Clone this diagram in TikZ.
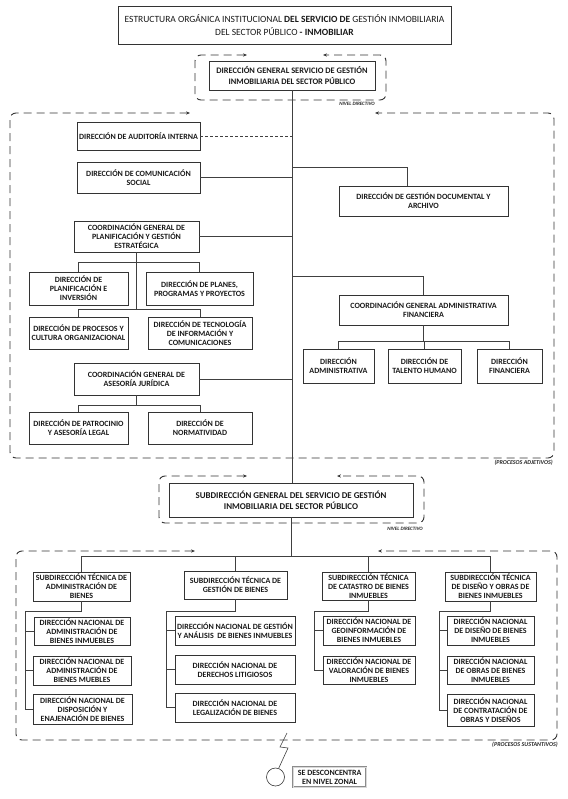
\documentclass[tikz,border=0pt]{standalone}
\usepackage{fontspec}
\setmainfont{Carlito}
\usetikzlibrary{positioning,arrows.meta}

\begin{document}
\begin{tikzpicture}[x=1pt,y=-1pt,>={Stealth[length=4pt,width=3.2pt]},
  box/.style={draw=black!80,line width=0.7pt,align=center,inner sep=0.5pt,
    font=\bfseries\fontsize{8}{9.1}\selectfont,text=black!90},
  sz/.style 2 args={minimum width=#1pt,minimum height=#2pt},
  conn/.style={draw=black!75,line width=0.6pt},
  frame/.style={draw=black!80,line width=0.9pt,dash pattern=on 8pt off 5pt,rounded corners=6pt},
  lbl/.style={font=\bfseries\itshape\fontsize{5}{6}\selectfont,inner sep=0pt,text=black!85}]
\useasboundingbox (0,0) rectangle (567,799);

\node[box,sz={333}{38},font=\fontsize{9.5}{13.5}\selectfont] (title) at (284.5,25)
  {ESTRUCTURA ORGÁNICA INSTITUCIONAL \textbf{DEL SERVICIO DE} GESTIÓN INMOBILIARIA\\DEL SECTOR PÚBLICO \textbf{- INMOBILIAR}};
\node[box,sz={166}{29},font=\bfseries\fontsize{8.4}{10.8}\selectfont] (dg) at (292,75.5)
  {DIRECCIÓN GENERAL SERVICIO DE GESTIÓN\\INMOBILIARIA DEL SECTOR PÚBLICO};

\node[box,sz={123}{28}] (audit) at (138.5,136) {DIRECCIÓN DE AUDITORÍA INTERNA};
\node[box,sz={123}{31}] (comsoc) at (138.5,177.5) {DIRECCIÓN DE COMUNICACIÓN\\SOCIAL};
\node[box,sz={169}{30}] (gestdoc) at (423.5,201) {DIRECCIÓN DE GESTIÓN DOCUMENTAL Y\\ARCHIVO};
\node[box,sz={125}{31}] (cplan) at (136.5,236.5) {COORDINACIÓN GENERAL DE\\PLANIFICACIÓN Y GESTIÓN\\ESTRATÉGICA};
\node[box,sz={99}{33}] (dplan) at (78.5,288.5) {DIRECCIÓN DE\\PLANIFICACIÓN E\\INVERSIÓN};
\node[box,sz={107}{33}] (dprog) at (199.5,288.5) {DIRECCIÓN DE PLANES,\\PROGRAMAS Y PROYECTOS};
\node[box,sz={99}{32}] (dproc) at (78.5,333) {DIRECCIÓN DE PROCESOS Y\\CULTURA ORGANIZACIONAL};
\node[box,sz={104}{32}] (dtic) at (200,333) {DIRECCIÓN DE TECNOLOGÍA\\DE INFORMACIÓN Y\\COMUNICACIONES};
\node[box,sz={169}{30}] (cadm) at (423.5,310) {COORDINACIÓN GENERAL ADMINISTRATIVA\\FINANCIERA};
\node[box,sz={71}{34}] (dadm) at (338.5,366) {DIRECCIÓN\\ADMINISTRATIVA};
\node[box,sz={73}{34}] (dtal) at (424.5,366) {DIRECCIÓN DE\\TALENTO HUMANO};
\node[box,sz={65}{34}] (dfin) at (509.5,366) {DIRECCIÓN\\FINANCIERA};
\node[box,sz={125}{32}] (cjur) at (136.5,379) {COORDINACIÓN GENERAL DE\\ASESORÍA JURÍDICA};
\node[box,sz={99}{32}] (dpat) at (78.5,428) {DIRECCIÓN DE PATROCINIO\\Y ASESORÍA LEGAL};
\node[box,sz={104}{32}] (dnorm) at (200,428) {DIRECCIÓN DE\\NORMATIVIDAD};

\node[box,sz={244}{34},font=\bfseries\fontsize{8.9}{11}\selectfont] (subdg) at (291,500)
  {SUBDIRECCIÓN GENERAL DEL SERVICIO DE GESTIÓN\\INMOBILIARIA DEL SECTOR PÚBLICO};

\node[box,sz={97}{29}] (st1) at (81.5,586.5) {SUBDIRECCIÓN TÉCNICA DE\\ADMINISTRACIÓN DE\\BIENES};
\node[box,sz={103}{28}] (st2) at (235.5,585) {SUBDIRECCIÓN TÉCNICA DE\\GESTIÓN DE BIENES};
\node[box,sz={93}{28}] (st3) at (368.5,586) {SUBDIRECCIÓN TÉCNICA\\DE CATASTRO DE BIENES\\INMUEBLES};
\node[box,sz={91}{29}] (st4) at (490.5,586.5) {SUBDIRECCIÓN TÉCNICA\\DE DISEÑO Y OBRAS DE\\BIENES INMUEBLES};

\node[box,sz={96}{28}] (dn11) at (82,631) {DIRECCIÓN NACIONAL DE\\ADMINISTRACIÓN DE\\BIENES INMUEBLES};
\node[box,sz={98}{29}] (dn12) at (82,670.5) {DIRECCIÓN NACIONAL DE\\ADMINISTRACIÓN DE\\BIENES MUEBLES};
\node[box,sz={99}{30}] (dn13) at (82.5,709) {DIRECCIÓN NACIONAL DE\\DISPOSICIÓN Y\\ENAJENACIÓN DE BIENES};
\node[box,sz={120}{29}] (dn21) at (235,630.5) {DIRECCIÓN NACIONAL DE GESTIÓN\\Y ANÁLISIS\ \ DE BIENES INMUEBLES};
\node[box,sz={120}{29}] (dn22) at (235,669.5) {DIRECCIÓN NACIONAL DE\\DERECHOS LITIGIOSOS};
\node[box,sz={120}{29}] (dn23) at (235,707.5) {DIRECCIÓN NACIONAL DE\\LEGALIZACIÓN DE BIENES};
\node[box,sz={92}{29}] (dn31) at (369,630.5) {DIRECCIÓN NACIONAL DE\\GEOINFORMACIÓN DE\\BIENES INMUEBLES};
\node[box,sz={92}{28}] (dn32) at (369,670) {DIRECCIÓN NACIONAL DE\\VALORACIÓN DE BIENES\\INMUEBLES};
\node[box,sz={87}{29}] (dn41) at (490.5,630.5) {DIRECCIÓN NACIONAL\\DE DISEÑO DE BIENES\\INMUEBLES};
\node[box,sz={87}{28}] (dn42) at (490.5,670) {DIRECCIÓN NACIONAL\\DE OBRAS DE BIENES\\INMUEBLES};
\node[box,sz={87}{32}] (dn43) at (490.5,710) {DIRECCIÓN NACIONAL\\DE CONTRATACIÓN DE\\OBRAS Y DISEÑOS};

\node[draw=black!80,line width=0.6pt,circle,minimum size=18pt,inner sep=0pt] (zcirc) at (275.5,777) {};
\node[box,right=8pt of zcirc,sz={73}{20},draw=black!45,double=black!15,double distance=0.6pt] (zonal) {SE DESCONCENTRA\\EN NIVEL ZONAL};

\draw[frame,<->] (247,55) -- (195,55) -- (195,100) -- (386,100) -- (386,55) -- (323,55);
\draw[frame,<->] (190,113) -- (10,113) -- (10,458) -- (554,458) -- (554,113) -- (375,113);
\draw[frame,<->] (247,476) -- (159,476) -- (159,523) -- (424,523) -- (424,476) -- (337,476);
\draw[frame,<->] (195,551) -- (16,551) -- (16,740) -- (557,740) -- (557,551) -- (378,551);
\node[lbl,anchor=east] (niv1) at (375,104) {NIVEL DIRECTIVO};
\node[lbl,anchor=east,font=\bfseries\itshape\fontsize{6}{7}\selectfont] (padj) at (553,463) {(PROCESOS ADJETIVOS)};
\node[lbl,anchor=east] (niv2) at (423,529) {NIVEL DIRECTIVO};
\node[lbl,anchor=east,font=\bfseries\itshape\fontsize{6}{7}\selectfont] (psus) at (558,745) {(PROCESOS SUSTANTIVOS)};

\draw[conn] (dg.south) -- (dg.south |- subdg.north);
\draw[conn,dash pattern=on 3pt off 2pt] (audit.east) -- (audit.east -| dg.south);
\draw[conn] (comsoc.east) -- (comsoc.east -| dg.south);
\draw[conn] (dg.south) ++(0,77) -| ([xshift=-16.5pt]gestdoc.north);
\draw[conn] (cplan.east) -- (cplan.east -| dg.south);
\draw[conn] (dg.south) ++(0,186) -| (cadm.north);
\draw[conn] (cjur.east) -- (cjur.east -| dg.south);

\draw[conn] (cplan.south) -- ++(0,58);
\draw[conn] (dplan.north) -- ++(0,-9) -| (dprog.north);
\draw[conn] (dproc.north) -- ++(0,-7) -| (dtic.north);
\draw[conn] (cjur.south) -- ++(0,11);
\draw[conn] (dpat.north) -- ++(0,-6) -| (dnorm.north);
\draw[conn] (cadm.south) -- ++(0,17);
\draw[conn] (dadm.north) -- ++(0,-7) -| (dfin.north);
\draw[conn] (dtal.north) -- ++(0,-7);

\draw[conn] (subdg.south) -- ++(0,40);
\draw[conn] (st1.north) -- ++(0,-15) -| (st4.north);
\draw[conn] (st2.north) -- ++(0,-14);
\draw[conn] (st3.north) -- ++(0,-15);

\draw[conn] (st1.south) -- ++(0,10) -| ([xshift=-7pt]dn13.west) -- (dn13.west);
\draw[conn] (dn11.west) -- ++(-8,0);
\draw[conn] (dn12.west) -- ++(-7,0);
\draw[conn] (st2.south) -- ++(0,12) -| ([xshift=-8pt]dn23.west) -- (dn23.west);
\draw[conn] (dn21.west) -- ++(-8,0);
\draw[conn] (dn22.west) -- ++(-8,0);
\draw[conn] (st3.south) -- ++(0,11) -| ([xshift=-8pt]dn32.west) -- (dn32.west);
\draw[conn] (dn31.west) -- ++(-8,0);
\draw[conn] (st4.south) -- ++(0,10) -| ([xshift=-7pt]dn43.west) -- (dn43.west);
\draw[conn] (dn41.west) -- ++(-7,0);
\draw[conn] (dn42.west) -- ++(-7,0);

\coordinate (zz) at (287,733);
\draw[conn] (zz) -- (280,747) -- (288,748) -- (zcirc.70);
\end{tikzpicture}
\end{document}
